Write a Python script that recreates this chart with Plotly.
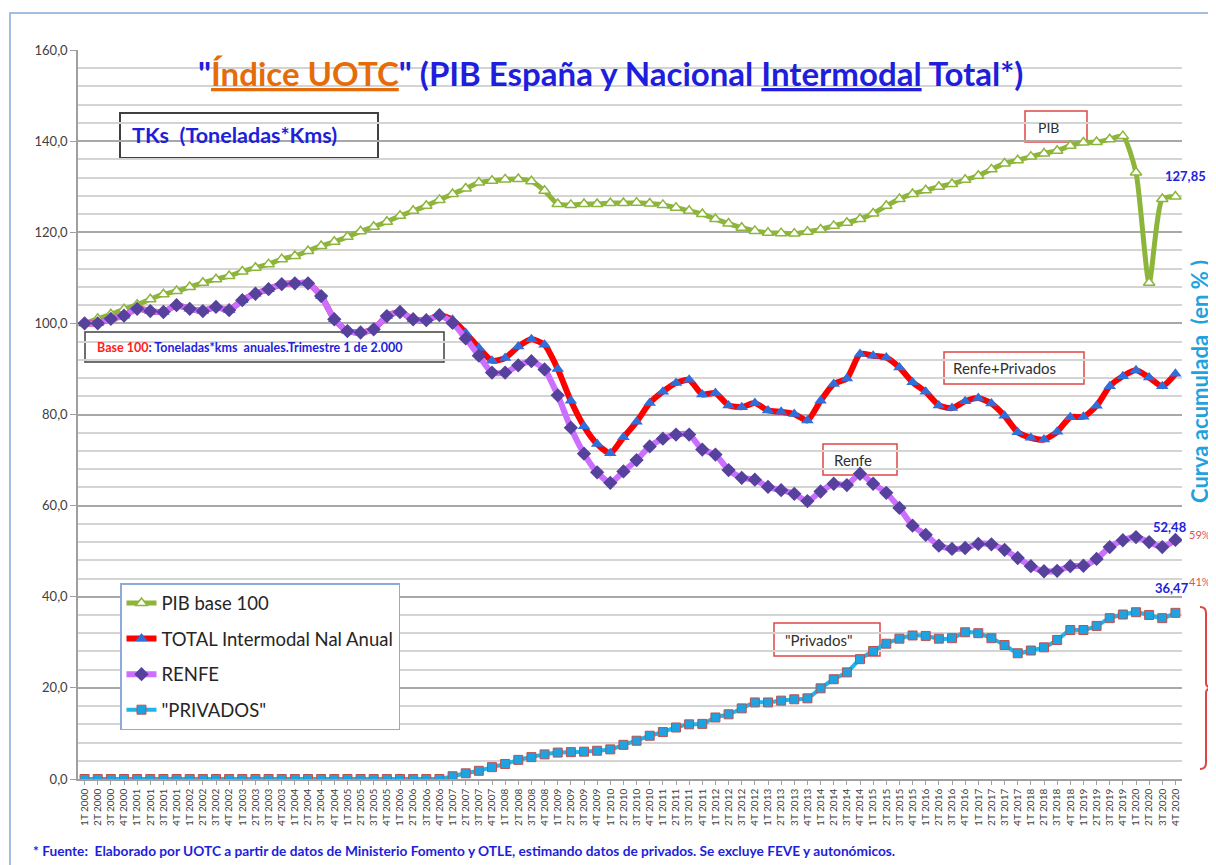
import plotly.graph_objects as go

# ---------------- data ----------------
quarters = ["1T", "2T", "3T", "4T"]
years = list(range(2000, 2021))
x_labels = [f"{q} {y}" for y in years for q in quarters]

pib = [100.0, 101.0, 102.0, 103.1, 104.1, 105.3, 106.4, 107.1, 108.0, 108.9,
       109.7, 110.4, 111.4, 112.2, 113.0, 114.1, 114.8, 115.9, 117.0, 117.9,
       119.0, 120.2, 121.2, 122.3, 123.6, 124.7, 125.8, 127.1, 128.4, 129.6,
       130.9, 131.3, 131.6, 131.7, 131.2, 129.1, 126.2, 126.0, 126.2, 126.2,
       126.4, 126.4, 126.5, 126.3, 126.0, 125.4, 124.7, 124.0, 122.9, 121.9,
       121.0, 120.3, 119.9, 119.8, 119.7, 120.1, 120.6, 121.4, 122.1, 122.9,
       124.1, 125.8, 127.3, 128.4, 129.2, 130.0, 130.6, 131.5, 132.4, 133.8,
       135.1, 135.8, 136.6, 137.3, 137.9, 139.0, 139.7, 139.8, 140.4, 141.1,
       133.1, 108.9, 127.3, 127.85]

renfe = [100.0, 100.0, 101.0, 101.7, 103.2, 102.7, 102.5, 104.0, 103.2, 102.7,
         103.6, 102.9, 105.1, 106.5, 107.5, 108.6, 108.8, 108.8, 106.0, 100.9,
         98.3, 98.0, 98.7, 101.6, 102.5, 100.9, 100.7, 101.8, 100.1, 96.7,
         92.9, 89.2, 89.2, 90.8, 91.7, 89.9, 84.2, 77.1, 71.4, 67.3,
         65.0, 67.5, 70.0, 73.0, 74.7, 75.6, 75.6, 72.3, 71.2, 67.8,
         66.1, 65.7, 64.1, 63.4, 62.6, 61.0, 63.1, 64.8, 64.5, 67.0,
         64.8, 62.8, 59.5, 55.6, 53.6, 51.2, 50.5, 50.7, 51.6, 51.5,
         50.3, 48.5, 46.7, 45.6, 45.7, 46.7, 46.8, 48.3, 50.9, 52.4,
         53.1, 52.0, 50.9, 52.48]

privados = [0.0] * 28 + [
    0.6, 1.25, 1.8, 2.6, 3.3, 4.2, 4.8, 5.4, 5.8, 5.9, 6.0, 6.2,
    6.5, 7.5, 8.4, 9.5, 10.3, 11.3, 12.0, 12.1, 13.5, 14.2,
    15.5, 16.8, 16.8, 17.2, 17.5, 17.7, 19.9, 21.9, 23.4, 26.3,
    28.1, 29.7, 30.8, 31.5, 31.4, 30.8, 30.9, 32.2, 32.0, 30.9,
    29.4, 27.6, 28.2, 28.9, 30.5, 32.7, 32.7, 33.6, 35.3, 36.1,
    36.6, 36.0, 35.3, 36.47]

total = [100.0, 100.0, 101.0, 101.7, 103.2, 102.7, 102.5, 104.0, 103.2, 102.7,
         103.6, 102.9, 105.1, 106.5, 107.5, 108.6, 108.8, 108.8, 106.0, 100.9,
         98.3, 98.0, 98.7, 101.6, 102.5, 100.9, 100.7, 101.8, 100.8, 97.9,
         94.6, 91.8, 92.4, 94.9, 96.5, 95.3, 90.0, 83.0, 77.4, 73.5,
         71.5, 75.0, 78.4, 82.5, 85.0, 86.9, 87.6, 84.4, 84.7, 82.0,
         81.6, 82.5, 80.9, 80.6, 80.1, 78.7, 83.0, 86.7, 87.9, 93.3,
         92.9, 92.5, 90.3, 87.1, 85.0, 82.0, 81.4, 82.9, 83.6, 82.4,
         79.7, 76.1, 74.9, 74.5, 76.2, 79.4, 79.5, 81.9, 86.2, 88.4,
         89.7, 88.1, 86.2, 88.95]

y_ticks = [0, 20, 40, 60, 80, 100, 120, 140, 160]
y_ticktext = ["0,0", "20,0", "40,0", "60,0", "80,0", "100,0", "120,0", "140,0", "160,0"]

# ---------------- layout helpers (reference pixel -> paper) ----------------
OFF = 8                       # page body margin
W, H = 1216 - OFF, 865 - OFF
L, R, T, B = 78, 1182, 50, 779   # plot area in reference window pixels


def px(x):
    return (x - L) / (R - L)


def py(y):
    return (B - y) / (B - T)


xs = list(range(len(x_labels)))
FONT = "Lato, 'Open Sans', sans-serif"
BLUE = "#1e1edc"

fig = go.Figure()

fig.add_trace(go.Scatter(
    x=xs, y=pib, name="PIB base 100", legendgroup="g1",
    mode="lines+markers",
    line=dict(color="#8db53c", width=5, shape="spline", smoothing=0.6),
    marker=dict(symbol="triangle-up", size=10, color="white",
                line=dict(color="#8db53c", width=1.5))))

fig.add_trace(go.Scatter(
    x=xs, y=total, name="TOTAL Intermodal Nal Anual", legendgroup="g2",
    mode="lines+markers",
    line=dict(color="#ff0000", width=6, shape="spline", smoothing=0.6),
    marker=dict(symbol="triangle-up", size=11, color="#2f6fdc")))

fig.add_trace(go.Scatter(
    x=xs, y=renfe, name="RENFE", legendgroup="g3",
    mode="lines+markers",
    line=dict(color="#cc6eff", width=6, shape="spline", smoothing=0.6),
    marker=dict(symbol="diamond", size=11, color="#56419c")))

fig.add_trace(go.Scatter(
    x=xs, y=privados, name='"PRIVADOS"', legendgroup="g4",
    mode="lines+markers",
    line=dict(color="#1fb4ea", width=4, shape="spline", smoothing=0.6),
    marker=dict(symbol="square", size=9, color="#1ba3e2",
                line=dict(color="#c0504d", width=1))))

shapes = []


def rect(x0, y0, x1, y1, color, width, fill="white"):
    shapes.append(dict(type="rect", xref="paper", yref="paper", layer="between",
                       x0=px(x0), x1=px(x1), y0=py(y1), y1=py(y0),
                       line=dict(color=color, width=width), fillcolor=fill))


# outer frame
shapes.append(dict(type="rect", xref="paper", yref="paper", layer="below",
                   x0=px(10), x1=px(1240), y0=py(890), y1=py(13),
                   line=dict(color="#86a9d8", width=1.5), fillcolor="rgba(0,0,0,0)"))

rect(120, 113, 378, 158, "#404040", 2)
rect(85, 332, 444, 362, "#404040", 1.5)
RED = "#e04545"
rect(1025, 111, 1087, 142, RED, 1.5)
rect(944, 352, 1084, 384, RED, 1.5)
rect(823, 444, 897, 475, RED, 1.5)
rect(774, 623, 880, 656, RED, 1.5)

# right curly bracket
path = "M {:.5f},{:.5f} Q {:.5f},{:.5f} {:.5f},{:.5f} L {:.5f},{:.5f} Q {:.5f},{:.5f} {:.5f},{:.5f} " \
       "Q {:.5f},{:.5f} {:.5f},{:.5f} L {:.5f},{:.5f} Q {:.5f},{:.5f} {:.5f},{:.5f}".format(
           px(1200), py(607), px(1206), py(607), px(1206), py(613),
           px(1206), py(683), px(1206), py(688), px(1214), py(688),
           px(1206), py(688), px(1206), py(693), px(1206), py(763),
           px(1206), py(769), px(1200), py(769))
shapes.append(dict(type="path", xref="paper", yref="paper", path=path,
                   line=dict(color=RED, width=2)))

annotations = []


def txt(x, y, text, size, color, xanchor="left", bold=False, textangle=0):
    annotations.append(dict(
        x=px(x), y=py(y), xref="paper", yref="paper", showarrow=False,
        text=f"<b>{text}</b>" if bold else text, xanchor=xanchor, yanchor="middle",
        textangle=textangle, font=dict(family=FONT, size=size, color=color)))


title = ('"<span style="color:#e46c0a"><u>Índice UOTC</u></span>" '
         '(PIB España y Nacional <u>Intermodal</u> Total*)')
txt(610, 73, title, 33, BLUE, xanchor="center", bold=True)
txt(130, 135, "TKs  (Toneladas*Kms)", 21.5, BLUE, bold=True)
txt(95, 347, '<span style="color:#ff2020">Base 100</span>: Toneladas*kms  anuales.Trimestre 1 de 2.000',
    12.5, BLUE, bold=True)
txt(1036, 127, "PIB", 14, "#303030")
txt(951, 368, "Renfe+Privados", 15, "#303030")
txt(832, 460, "Renfe", 15, "#303030")
txt(783, 640, '"Privados"', 15, "#303030")
txt(1185, 176, "127,85", 13, BLUE, xanchor="center", bold=True)
txt(1170, 527, "52,48", 13, BLUE, xanchor="center", bold=True)
txt(1200, 534, "59%", 11, "#e05050", xanchor="center")
txt(1172, 588, "36,47", 13, BLUE, xanchor="center", bold=True)
txt(1200, 581, "41%", 11, "#e05050", xanchor="center")
txt(1199, 382, "Curva acumulada  (en % )", 22, "#1fa3de", xanchor="center", bold=True, textangle=-90)
txt(31, 850, "* Fuente:  Elaborado por UOTC a partir de datos de Ministerio Fomento y OTLE, "
    "estimando datos de privados. Se excluye FEVE y autonómicos.", 13.7, BLUE, bold=True)

fig.update_layout(
    width=W, height=H, autosize=False,
    margin=dict(l=L - OFF, r=W - (R - OFF), t=T - OFF, b=H - (B - OFF), pad=0),
    paper_bgcolor="white", plot_bgcolor="white",
    font=dict(family=FONT, color="#404040"),
    showlegend=True,
    legend=dict(x=px(120), y=py(583), xanchor="left", yanchor="top",
                bgcolor="white", bordercolor="#8eaadb", borderwidth=1.5,
                font=dict(family=FONT, size=18.5, color="#262626"),
                tracegroupgap=8.5, itemwidth=30),
    shapes=shapes, annotations=annotations,
    xaxis=dict(range=[-0.5, len(xs) - 0.5], tickmode="array", tickvals=xs,
               ticktext=x_labels, tickangle=-90,
               tickfont=dict(family=FONT, size=10, color="#404040"),
               showgrid=False, zeroline=False, showline=True,
               linecolor="#a0a0a0", linewidth=1.5,
               ticks="outside", ticklen=4, tickcolor="#a0a0a0"),
    yaxis=dict(range=[0, 160], tickmode="array", tickvals=y_ticks,
               ticktext=y_ticktext,
               tickfont=dict(family=FONT, size=13, color="#404040"),
               showgrid=True, gridcolor="#a8a8a8", gridwidth=1.5,
               zeroline=False, showline=True, linecolor="#a0a0a0", linewidth=1.5,
               ticks="outside", ticklen=6, tickcolor="#a0a0a0",
               minor=dict(tickmode="linear", tick0=0, dtick=4, showgrid=True,
                          gridcolor="#d4d4d4", gridwidth=1.5, ticks="")),
)

fig.write_html("out.html")
